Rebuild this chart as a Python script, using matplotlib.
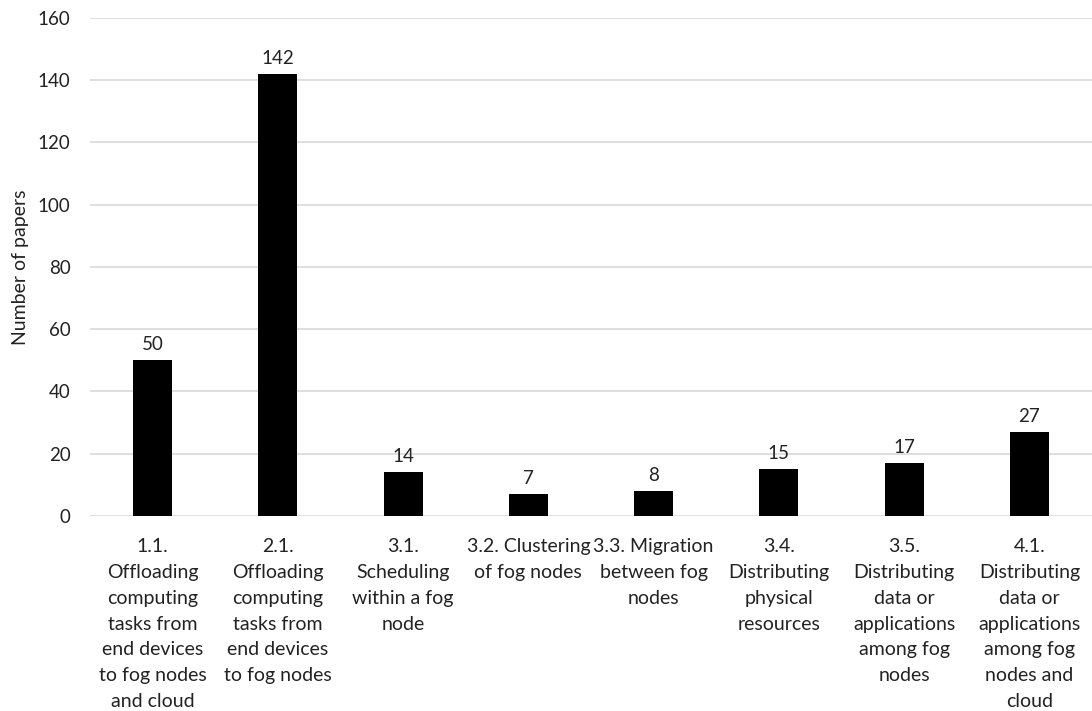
import matplotlib.pyplot as plt
import numpy as np

plt.rcParams['font.family'] = ['Lato', 'DejaVu Sans']

categories = [
    "1.1.\nOffloading\ncomputing\ntasks from\nend devices\nto fog nodes\nand cloud",
    "2.1.\nOffloading\ncomputing\ntasks from\nend devices\nto fog nodes",
    "3.1.\nScheduling\nwithin a fog\nnode",
    "3.2. Clustering\nof fog nodes",
    "3.3. Migration\nbetween fog\nnodes",
    "3.4.\nDistributing\nphysical\nresources",
    "3.5.\nDistributing\ndata or\napplications\namong fog\nnodes",
    "4.1.\nDistributing\ndata or\napplications\namong fog\nnodes and\ncloud",
]
papers = [50, 142, 14, 7, 8, 15, 17, 27]
yticks = [0, 20, 40, 60, 80, 100, 120, 140, 160]

fig = plt.figure(figsize=(10.92, 7.11), dpi=100)
ax = fig.add_axes([0.0824, 0.2743, 0.9176, 0.7004])

x = np.arange(len(papers))
bars = ax.bar(x, papers, width=0.31, color="black", zorder=3)
for b, v in zip(bars, papers):
    ax.annotate(str(v), (b.get_x() + b.get_width() / 2, v), xytext=(0, 5),
                textcoords="offset points", ha="center", va="bottom",
                fontsize=13.5, color="#222222")

ax.set_xlim(-0.5, len(papers) - 0.5)
ax.set_ylim(0, 160)
ax.set_yticks(yticks)
ax.set_xticks(x)
ax.set_xticklabels(categories, fontsize=14, linespacing=1.63, color="#222222")
ax.tick_params(axis="y", length=0, pad=14, labelsize=13.5, labelcolor="#222222")
ax.tick_params(axis="x", length=0, pad=16)
ax.grid(axis="y", color="#d9d9d9", linewidth=1.2, zorder=0)
for s in ax.spines.values():
    s.set_visible(False)
ax.set_ylabel("Number of papers", fontsize=14, color="#222222", labelpad=6)

plt.savefig("out.png")
